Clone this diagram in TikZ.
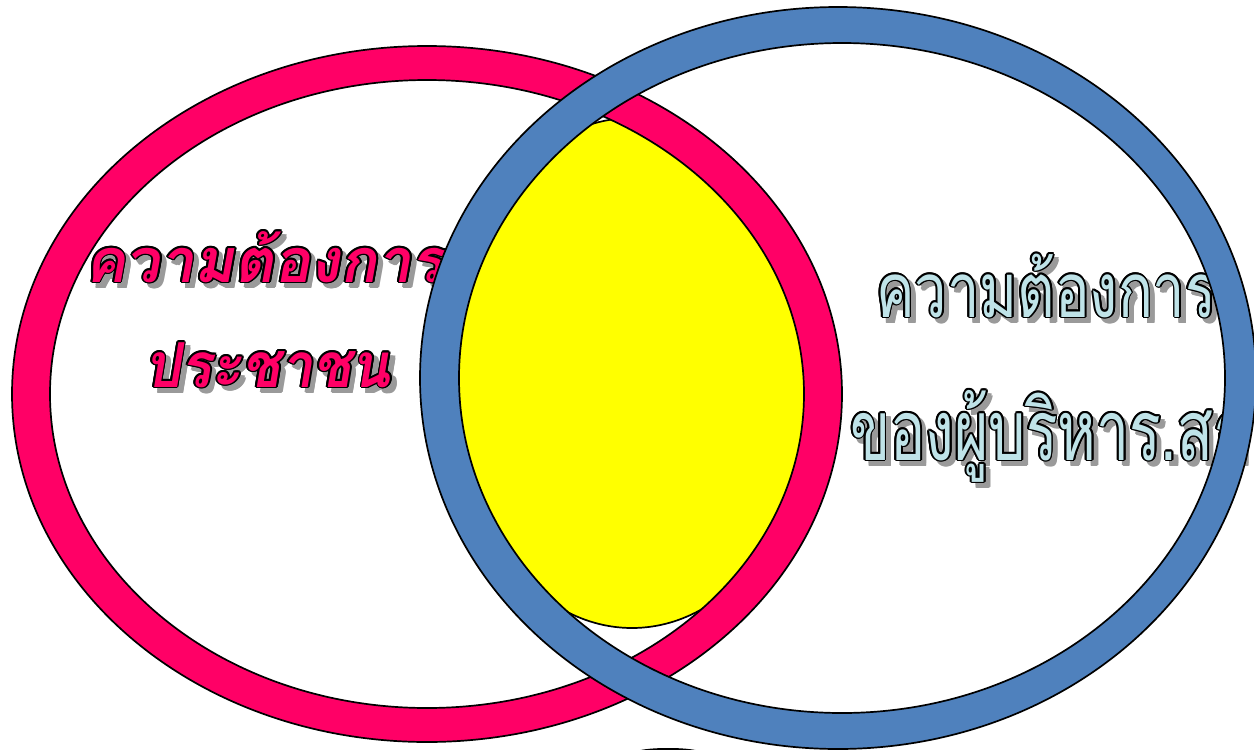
\documentclass[tikz,border=0pt]{standalone}
\usepackage{fontspec}
\usepackage{graphicx}
\newfontfamily\thaiL[Script=Thai,FakeSlant=0.18]{Loma}
\newfontfamily\thaiR[Script=Thai,FakeStretch=0.76]{Loma}
\newfontfamily\thaiRR[Script=Thai,FakeStretch=0.70]{Loma}
\definecolor{ringpink}{HTML}{FF0066}
\definecolor{ringblue}{HTML}{4F81BD}
\definecolor{lensyellow}{HTML}{FFFF00}
\definecolor{txtblue}{HTML}{BFE3E8}
\definecolor{shadowgray}{HTML}{9A9A9A}
\tikzset{
  ttxt/.style={inner sep=0pt, outer sep=0pt, anchor=base west},
  edge/.style={draw=black, line width=1.7pt},
}
% #1 name, #2 base-west coordinate, #3 fill colour, #4 text (with font)
\newcommand\outlinedtext[4]{%
  \path (#2) ++(5,5) coordinate (#1sh);
  \foreach \a in {0,45,...,315}{
    \node[ttxt,text=shadowgray] (#1s\a) at ([shift={(\a:1.6)}]#1sh) {#4};
  }
  \foreach \a in {0,30,...,330}{
    \node[ttxt,text=black] (#1o\a) at ([shift={(\a:1.9)}]#2) {#4};
  }
  \node[ttxt,text=#3] (#1) at (#2) {#4};
}
\begin{document}
\begin{tikzpicture}[x=1pt,y=-1pt]
\useasboundingbox (0,0) rectangle (1254,750);
\fill[white] (0,0) rectangle (1254,750);
% yellow lens
\filldraw[fill=lensyellow, edge] (632,373) ellipse [x radius=185pt, y radius=255pt];
% pink ring
\fill[ringpink, even odd rule] (427,394) ellipse [x radius=415pt, y radius=348pt]
  (427,394) ellipse [x radius=377pt, y radius=314pt];
\draw[edge] (427,394) ellipse [x radius=415pt, y radius=348pt];
\draw[edge] (427,394) ellipse [x radius=377pt, y radius=314pt];
% texts
\coordinate (l1) at (85,282);
\coordinate (l2) at (145,387);
\coordinate (r1) at (876,317);
\coordinate (r2) at (850,460);
\outlinedtext{tl1}{l1}{ringpink}{\thaiL\bfseries\fontsize{61}{61}\selectfont ความต้องการ}
\outlinedtext{tl2}{l2}{ringpink}{\scalebox{0.92}[1]{\thaiL\bfseries\fontsize{62}{62}\selectfont ประชาชน}}
\outlinedtext{tr1}{r1}{txtblue}{\thaiR\fontsize{76}{76}\selectfont ความต้องการ}
\outlinedtext{tr2}{r2}{txtblue}{\thaiRR\fontsize{84}{84}\selectfont ของผู้บริหาร.สธ}
% blue ring
\fill[ringblue, even odd rule] (838,378) ellipse [x radius=418pt, y radius=371pt]
  (842,378) ellipse [x radius=383pt, y radius=335pt];
\draw[edge] (838,378) ellipse [x radius=418pt, y radius=371pt];
\draw[edge] (842,378) ellipse [x radius=383pt, y radius=335pt];
% bottom dark shape, mostly below the edge
\fill[black] (668,752.5) ellipse [x radius=33pt, y radius=4.5pt];
\end{tikzpicture}
\end{document}
